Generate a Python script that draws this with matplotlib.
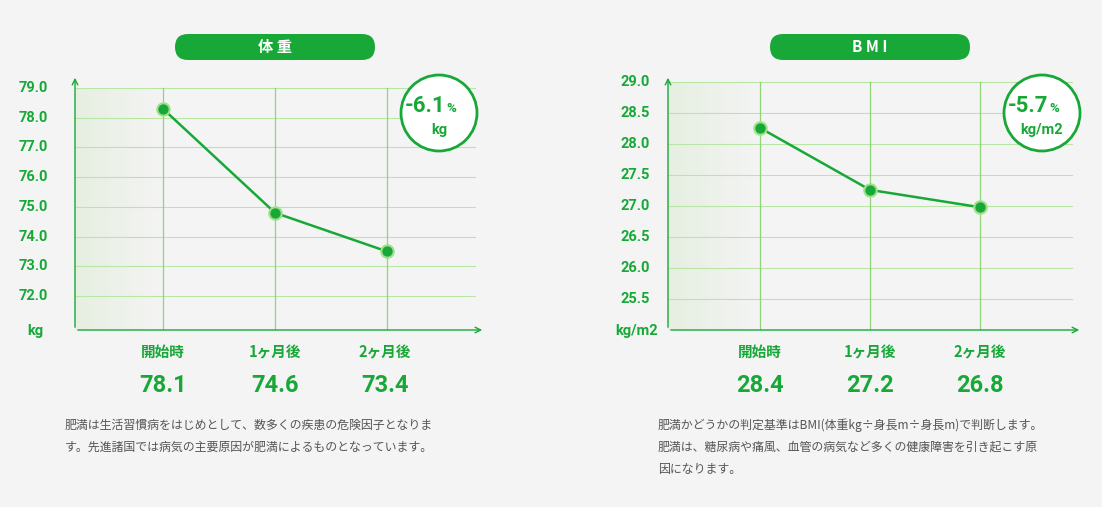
import matplotlib
matplotlib.use("Agg")
import matplotlib.pyplot as plt
import numpy as np
from matplotlib.patches import FancyBboxPatch, Circle

categories = ["開始時", "1ヶ月後", "2ヶ月後"]
weight_points = [78.3, 74.8, 73.5]
weight_labels = ["78.1", "74.6", "73.4"]
weight_ticks = [72.0, 73.0, 74.0, 75.0, 76.0, 77.0, 78.0, 79.0]
bmi_points = [28.26, 27.26, 26.98]
bmi_labels = ["28.4", "27.2", "26.8"]
bmi_ticks = [25.5, 26.0, 26.5, 27.0, 27.5, 28.0, 28.5, 29.0]

G = "#17a838"
LG = "#b8e6a4"
JP = "Noto Sans CJK JP"
W, H = 1102, 507
fig = plt.figure(figsize=(W/100, H/100), dpi=100)
fig.patch.set_facecolor("#f4f4f4")

def fx(px): return px / W
def fy(py): return 1 - py / H

def panel(x0, x1, y_top, y_bot, xs, vals, ticks, t0px, t1px, title, badge, bunit, unit, labels, desc, tick_x, cx, bx):
    ax = fig.add_axes([fx(x0), fy(y_bot), fx(x1) - fx(x0), fy(y_top) - fy(y_bot)])
    ax.set_facecolor("none")
    ppu = (t1px - t0px) / (ticks[-1] - ticks[0])
    ylo = ticks[0] - (y_bot - t1px) / ppu
    yhi = ticks[-1] + (t0px - y_top) / ppu
    dx = xs[1] - xs[0]
    xlo = -(xs[0] - x0) / dx
    xhi = xlo + (x1 - x0) / dx
    ax.set_xlim(xlo, xhi); ax.set_ylim(ylo, yhi)
    for s in ax.spines.values(): s.set_visible(False)
    ax.set_xticks([]); ax.set_yticks([])
    grad = np.linspace(1, 0, 100).reshape(1, -1)
    ax.imshow(grad, extent=[xlo, 0, ylo, ticks[-1]], aspect="auto",
              cmap=matplotlib.colors.LinearSegmentedColormap.from_list("g", ["#f4f4f4", "#e6efe1"]), zorder=0)
    xr = [0, 1, 2]
    for t in ticks:
        ax.plot([xlo, xhi - 10 / dx], [t, t], color=LG, lw=0.8, zorder=1)
    for x in xr:
        ax.plot([x, x], [ylo, ticks[-1]], color="#8fd679", lw=0.9, zorder=1)
    ax.annotate("", xy=(xlo, yhi), xytext=(xlo, ylo), arrowprops=dict(arrowstyle="->", color=G, lw=1), annotation_clip=False)
    ax.annotate("", xy=(xhi, ylo), xytext=(xlo, ylo), arrowprops=dict(arrowstyle="->", color=G, lw=1), annotation_clip=False)
    ax.plot(xr, vals, color=G, lw=1.8, zorder=3)
    ax.scatter(xr, vals, s=80, color=G, edgecolors="#9fe08a", linewidths=1.5, zorder=4)
    for t in ticks:
        fig.text(fx(tick_x), fy(t0px + (ticks[-1] - t) * ppu), f"{t:.1f}", color=G, fontsize=10.5, fontweight="bold", ha="right", va="center", family="Roboto")
    fig.text(fx(tick_x - 13), fy(331), unit, color=G, fontsize=10.5, fontweight="bold", ha="center", va="center", family="Roboto")
    for i, (c, l) in enumerate(zip(categories, labels)):
        fig.text(fx(xs[i]), fy(352), c, color=G, fontsize=10.5, fontweight="bold", ha="center", va="center", family=JP)
        fig.text(fx(xs[i]), fy(385), l, color=G, fontsize=17, fontweight="bold", ha="center", va="center", family="Roboto")
    fig.patches.append(FancyBboxPatch((cx - 100 + 13, H - 60), 200 - 26, 26,
                                      boxstyle="round,pad=0,rounding_size=13", transform=None,
                                      facecolor=G, edgecolor="none"))
    fig.patches[-1].set_boxstyle("round", pad=13, rounding_size=13)
    fig.patches[-1].set_bounds(cx - 100 + 13, H - 47, 200 - 26, 0)
    fig.text(fx(cx), fy(47), title, color="white", fontsize=11, fontweight="bold", ha="center", va="center", family=JP)
    fig.patches.append(Circle((bx, H - 113), 38, transform=None, facecolor="white", edgecolor=G, lw=2))
    fig.text(fx(bx + 6), fy(106), badge, color=G, fontsize=16, fontweight="bold", ha="right", va="center", family="Roboto")
    fig.text(fx(bx + 7), fy(109), "%", color=G, fontsize=9.5, fontweight="bold", ha="left", va="center", family="Roboto")
    fig.text(fx(bx), fy(130), bunit, color=G, fontsize=10.5, fontweight="bold", ha="center", va="center", family="Roboto")
    for i, line in enumerate(desc):
        fig.text(fx(x0 - 10), fy(425 + i * 22), line, color="#555555", fontsize=8.6, ha="left", va="center", family=JP)

panel(75, 485, 75, 330, [163, 275, 385], weight_points, weight_ticks, 88, 296, "体 重", "-6.1", "kg", "kg",
      weight_labels, ["肥満は生活習慣病をはじめとして、数多くの疾患の危険因子となりま", "す。先進諸国では病気の主要原因が肥満によるものとなっています。"], 48, 275, 439)
panel(668, 1082, 75, 330, [760, 870, 980], bmi_points, bmi_ticks, 82, 299, "B M I", "-5.7", "kg/m2", "kg/m2",
      bmi_labels, ["肥満かどうかの判定基準はBMI(体重kg÷身長m÷身長m)で判断します。", "肥満は、糖尿病や痛風、血管の病気など多くの健康障害を引き起こす原", "因になります。"], 650, 870, 1042)
fig.savefig("out.png", dpi=100, facecolor=fig.get_facecolor())
